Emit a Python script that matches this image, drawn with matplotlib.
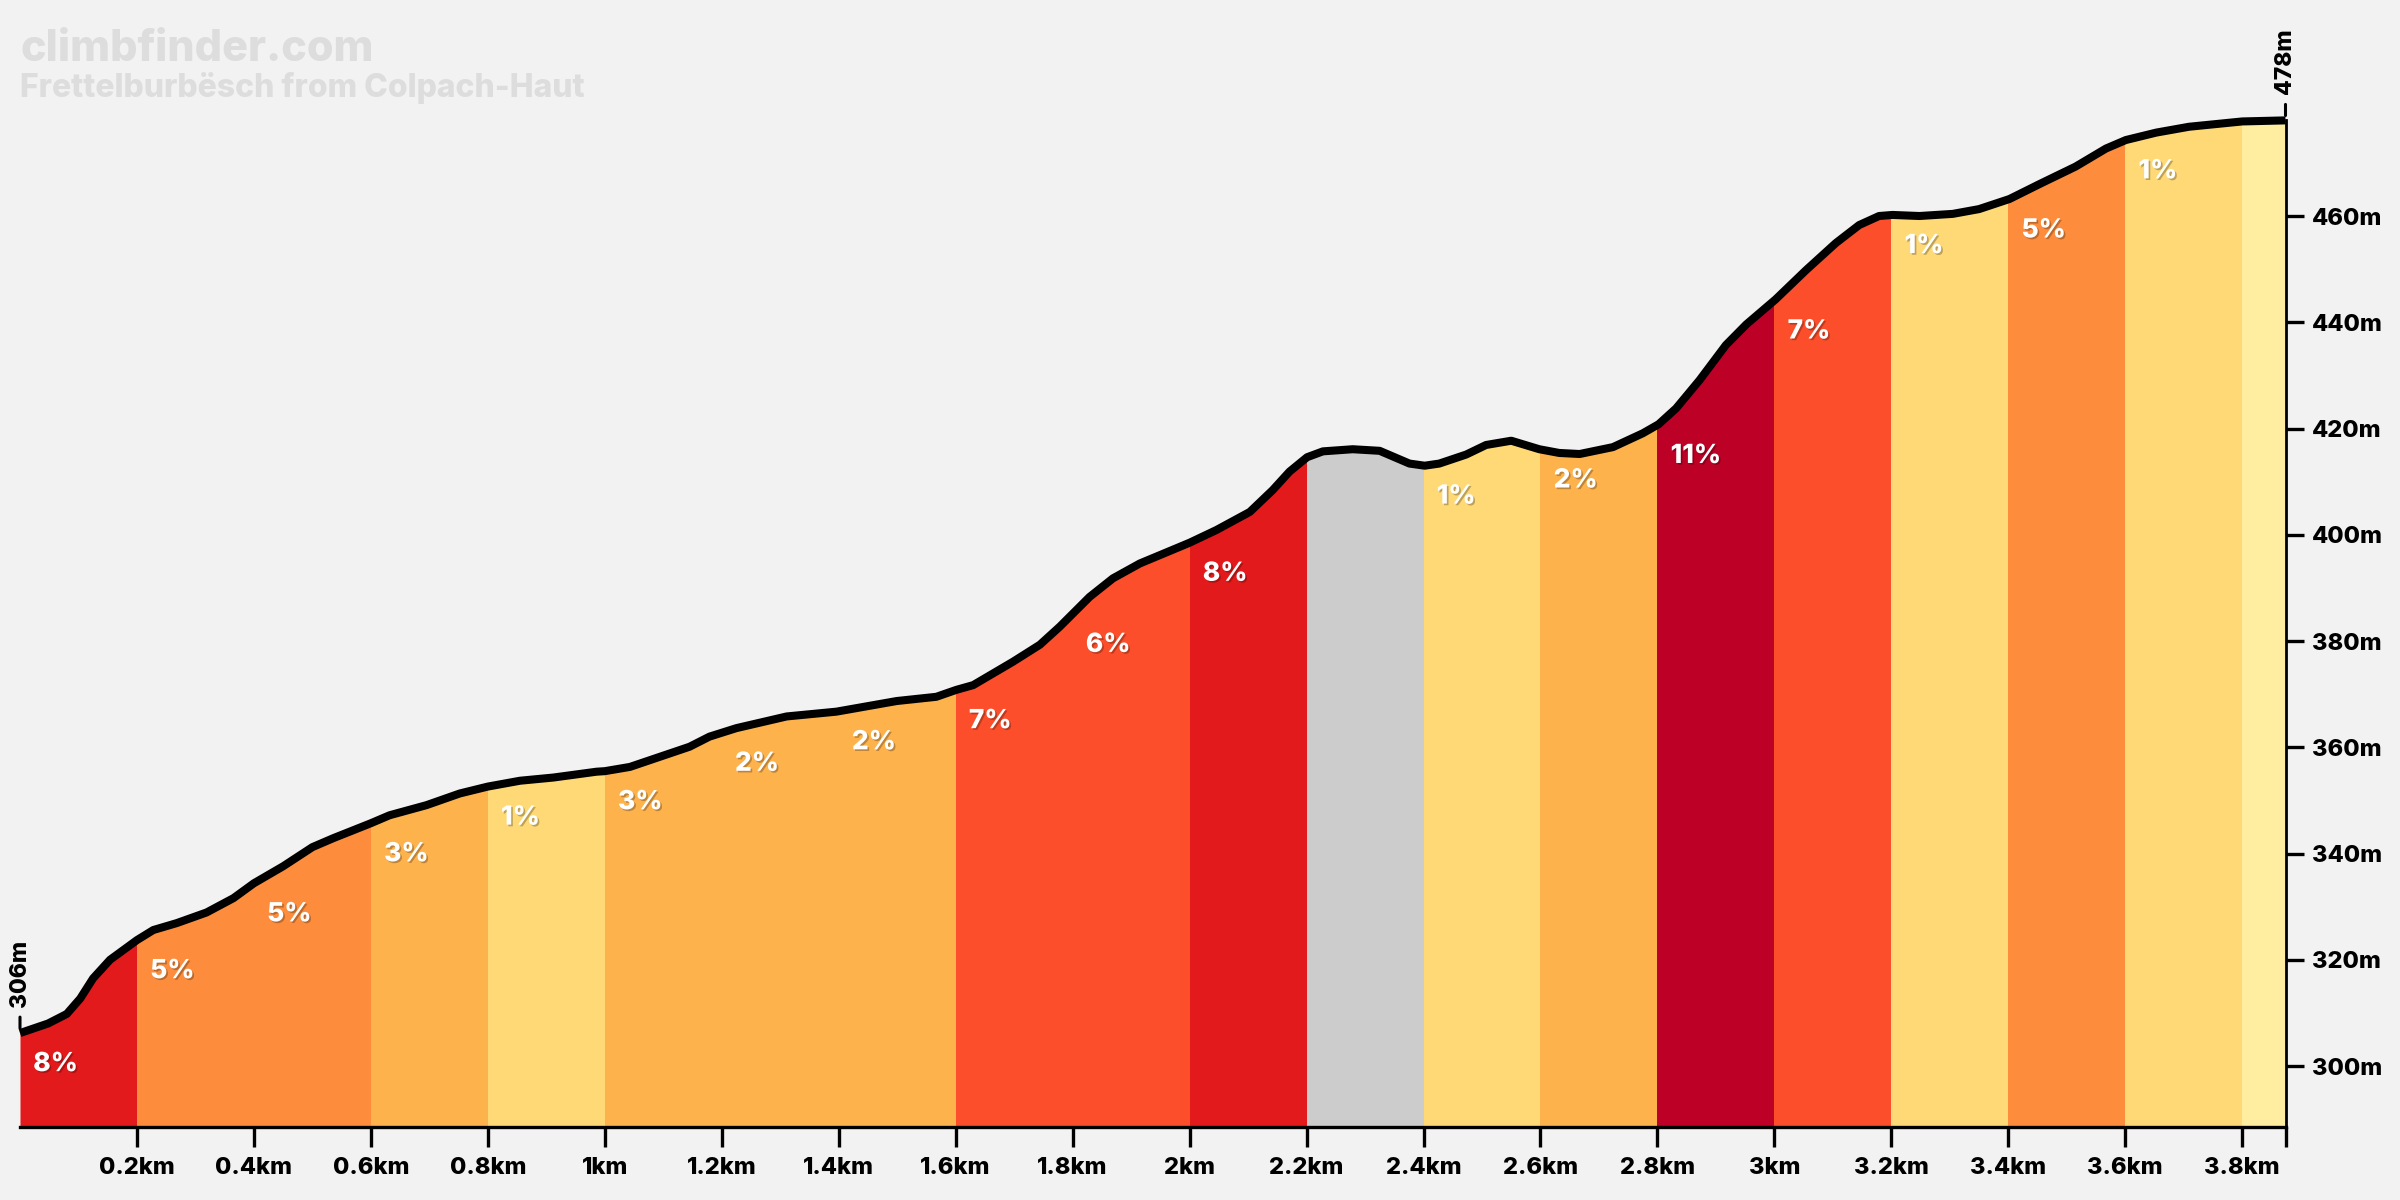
import matplotlib
matplotlib.use("Agg")
import matplotlib.pyplot as plt
import matplotlib.patheffects as pe
from matplotlib.patches import Rectangle
import numpy as np

# elevation profile (km, m)
dist = [0.000, 0.048, 0.080, 0.103, 0.125, 0.154, 0.200, 0.228, 0.268, 0.319,
        0.365, 0.400, 0.450, 0.500, 0.536, 0.600, 0.632, 0.695, 0.752, 0.800,
        0.855, 0.912, 0.986, 1.000, 1.043, 1.094, 1.145, 1.179, 1.225, 1.311,
        1.396, 1.499, 1.567, 1.601, 1.630, 1.698, 1.744, 1.778, 1.829, 1.869,
        1.915, 2.000, 2.046, 2.103, 2.142, 2.171, 2.201, 2.228, 2.279, 2.325,
        2.376, 2.402, 2.427, 2.473, 2.507, 2.550, 2.598, 2.632, 2.667, 2.724,
        2.775, 2.802, 2.832, 2.872, 2.917, 2.952, 3.002, 3.054, 3.105, 3.145,
        3.179, 3.202, 3.248, 3.305, 3.350, 3.402, 3.455, 3.515, 3.567, 3.601,
        3.653, 3.709, 3.800, 3.874]
elev = [306.2, 308.0, 309.8, 312.7, 316.5, 320.0, 323.7, 325.6, 326.9, 328.9,
        331.6, 334.4, 337.6, 341.2, 342.9, 345.7, 347.2, 349.1, 351.3, 352.6,
        353.7, 354.3, 355.4, 355.5, 356.3, 358.2, 360.1, 362.0, 363.6, 365.8,
        366.7, 368.7, 369.5, 370.8, 371.7, 376.1, 379.3, 382.7, 388.3, 391.8,
        394.6, 398.5, 400.9, 404.3, 408.4, 411.9, 414.6, 415.7, 416.1, 415.8,
        413.4, 413.0, 413.4, 415.1, 416.9, 417.7, 416.1, 415.4, 415.2, 416.5,
        419.1, 420.8, 423.8, 429.1, 435.7, 439.6, 444.3, 449.8, 454.9, 458.3,
        460.0, 460.2, 460.0, 460.4, 461.3, 463.2, 466.1, 469.3, 472.7, 474.3,
        475.7, 476.8, 477.8, 478.0]

seg_start = [0.0, 0.2, 0.4, 0.6, 0.8, 1.0, 1.2, 1.4, 1.6, 1.8,
             2.0, 2.2, 2.4, 2.6, 2.8, 3.0, 3.2, 3.4, 3.6, 3.8]
seg_end = seg_start[1:] + [3.874]
seg_label = ["8%", "5%", "5%", "3%", "1%", "3%", "2%", "2%", "7%", "6%",
             "8%", "", "1%", "2%", "11%", "7%", "1%", "5%", "1%", ""]
seg_color = ["#e31a1c", "#fd8d3c", "#fd8d3c", "#feb24c", "#fed976",
             "#feb24c", "#feb24c", "#feb24c", "#fc4e2a", "#fc4e2a",
             "#e31a1c", "#cccccc", "#fed976", "#feb24c", "#bd0026",
             "#fc4e2a", "#fed976", "#fd8d3c", "#fed976", "#ffeda0"]

x_ticks = [0.2, 0.4, 0.6, 0.8, 1.0, 1.2, 1.4, 1.6, 1.8, 2.0,
           2.2, 2.4, 2.6, 2.8, 3.0, 3.2, 3.4, 3.6, 3.8]
x_ticklabels = ["0.2km", "0.4km", "0.6km", "0.8km", "1km", "1.2km", "1.4km",
                "1.6km", "1.8km", "2km", "2.2km", "2.4km", "2.6km", "2.8km",
                "3km", "3.2km", "3.4km", "3.6km", "3.8km"]
y_ticks = [300, 320, 340, 360, 380, 400, 420, 440, 460]

title = "climbfinder.com"
subtitle = "Frettelburbësch from Colpach-Haut"

bg = "#f2f2f2"
font = "Inter"
plt.rcParams["font.family"] = [font, "DejaVu Sans"]

fig = plt.figure(figsize=(24, 12), dpi=100, facecolor=bg)
ax = fig.add_axes([20 / 2400, 73 / 1200, 2265.5 / 2400, 1127 / 1200])
ax.set_facecolor(bg)
ymin, ymax = 288.52, 500.66
ax.set_xlim(0, seg_end[-1])
ax.set_ylim(ymin, ymax)

# coloured gradient blocks under the profile
for x0, x1, c in zip(seg_start, seg_end, seg_color):
    poly = ax.fill_between(dist, elev, ymin, color=c, lw=0, antialiased=False, zorder=1)
    poly.set_clip_path(Rectangle((x0, ymin), x1 - x0, ymax - ymin, transform=ax.transData))

ax.plot(dist, elev, color="black", lw=5.8, solid_joinstyle="round",
        solid_capstyle="butt", zorder=3, clip_on=False)

shadow = [pe.withSimplePatchShadow(offset=(1.2, -1.2), shadow_rgbFace="black", alpha=0.25)]
for x0, lab in zip(seg_start, seg_label):
    if not lab:
        continue
    y0 = np.interp(x0, dist, elev)
    ax.annotate(lab, (x0, y0), xytext=(9.5, -13), textcoords="offset points",
                ha="left", va="top", color="white", fontsize=19, fontweight="heavy",
                path_effects=shadow, zorder=4)

# start / end elevation markers
for xe, ye in [(dist[0], elev[0]), (dist[-1], elev[-1])]:
    ax.annotate(f"{ye:.0f}m", (xe, ye), xytext=(0, 19), textcoords="offset points",
                rotation=90, ha="center", va="bottom", fontsize=16.5, fontweight="heavy",
                annotation_clip=False, zorder=5,
                arrowprops=dict(arrowstyle="-", lw=2.2, color="black", relpos=(0.5, 0),
                                shrinkA=5.5, shrinkB=3.5))

for s in ["top", "left"]:
    ax.spines[s].set_visible(False)
ax.spines["bottom"].set_linewidth(2.4)
ax.spines["right"].set_linewidth(2.0)
ax.spines["right"].set_bounds(ymin, elev[-1])
ax.spines["bottom"].set_zorder(5)
ax.spines["right"].set_zorder(5)

ax.set_xticks(x_ticks + [seg_end[-1]])
ax.set_xticklabels(x_ticklabels + [""])
ax.set_yticks(y_ticks)
ax.set_yticklabels([f"{v}m" for v in y_ticks])
ax.yaxis.tick_right()
ax.tick_params(axis="x", length=14.5, width=2.4, pad=7, labelsize=17, direction="out")
ax.tick_params(axis="y", length=13, width=2.4, pad=6, labelsize=17, direction="out")
for t in ax.get_xticklabels() + ax.get_yticklabels():
    t.set_fontweight("heavy")

fig.text(20 / 2400, 1 - 61 / 1200, title, color="#dddddd", fontsize=31,
         fontweight="heavy", va="baseline", ha="left")
fig.text(20 / 2400, 1 - 97 / 1200, subtitle, color="#dddddd", fontsize=23,
         fontweight="heavy", va="baseline", ha="left")

fig.savefig("out.png", dpi=100, facecolor=bg)
